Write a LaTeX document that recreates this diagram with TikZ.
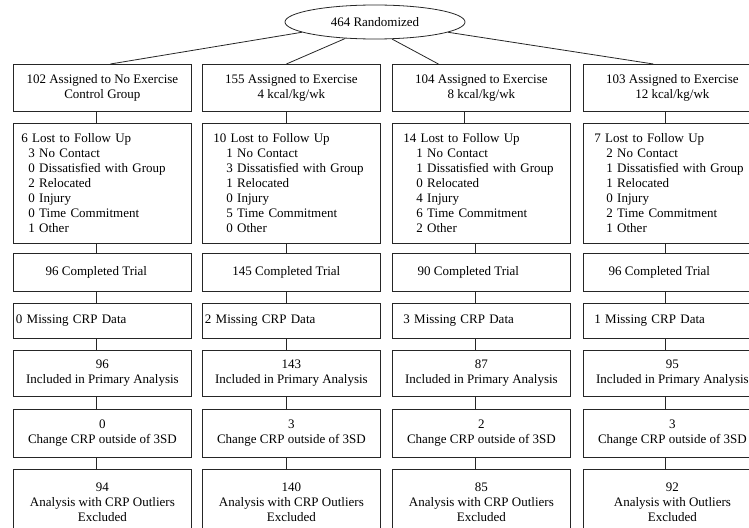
\documentclass[tikz,border=0pt]{standalone}
\usepackage{fontspec}
\setmainfont{Liberation Serif}
\usetikzlibrary{shapes.geometric}
\begin{document}
\begin{tikzpicture}[x=1pt,y=-1pt,
  every node/.style={font=\fontsize{13}{15}\selectfont},
  line/.style={draw=black!85,line width=0.8pt},
  cbox/.style={line,rectangle,anchor=north west,minimum width=178pt,align=center,inner sep=0pt},
  lbox/.style={line,rectangle,anchor=north west,minimum width=178pt,align=left,inner ysep=0pt}]
\clip (0,0) rectangle (749,527);
\node[line,ellipse,minimum width=180pt,minimum height=34pt,inner sep=0pt] (rand) at (375,22) {464 Randomized};
% row 1
\node[cbox,minimum height=47pt] (a1) at (13,64) {102 Assigned to No Exercise\\Control Group};
\node[cbox,minimum height=47pt] (a2) at (202,64) {155 Assigned to Exercise\\4 kcal/kg/wk};
\node[cbox,minimum height=47pt] (a3) at (392,64) {104 Assigned to Exercise\\8 kcal/kg/wk};
\node[cbox,minimum height=47pt] (a4) at (583,64) {103 Assigned to Exercise\\12 kcal/kg/wk};
% row 2
\node[lbox,minimum height=120pt,inner xsep=8pt,text width=162pt] (b1) at (13,123) {6 Lost to Follow Up\\\hspace*{7pt}3 No Contact\\\hspace*{7pt}0 Dissatisfied with Group\\\hspace*{7pt}2 Relocated\\\hspace*{7pt}0 Injury\\\hspace*{7pt}0 Time Commitment\\\hspace*{7pt}1 Other};
\node[lbox,minimum height=120pt,inner xsep=11pt,text width=156pt] (b2) at (202,123) {10 Lost to Follow Up\\\hspace*{13pt}1 No Contact\\\hspace*{13pt}3 Dissatisfied with Group\\\hspace*{13pt}1 Relocated\\\hspace*{13pt}0 Injury\\\hspace*{13pt}5 Time Commitment\\\hspace*{13pt}0 Other};
\node[lbox,minimum height=120pt,inner xsep=11pt,text width=156pt] (b3) at (392,123) {14 Lost to Follow Up\\\hspace*{13pt}1 No Contact\\\hspace*{13pt}1 Dissatisfied with Group\\\hspace*{13pt}0 Relocated\\\hspace*{13pt}4 Injury\\\hspace*{13pt}6 Time Commitment\\\hspace*{13pt}2 Other};
\node[lbox,minimum height=120pt,inner xsep=11pt,text width=156pt] (b4) at (583,123) {7 Lost to Follow Up\\\hspace*{12pt}2 No Contact\\\hspace*{12pt}1 Dissatisfied with Group\\\hspace*{12pt}1 Relocated\\\hspace*{12pt}0 Injury\\\hspace*{12pt}2 Time Commitment\\\hspace*{12pt}1 Other};
% row 3
\node[cbox,minimum height=38pt] (c1) at (13,253) {\hspace*{-12pt}96 Completed Trial};
\node[cbox,minimum height=38pt] (c2) at (202,253) {\hspace*{-10pt}145 Completed Trial};
\node[cbox,minimum height=38pt] (c3) at (392,253) {\hspace*{-26pt}90 Completed Trial};
\node[cbox,minimum height=38pt] (c4) at (583,253) {\hspace*{-26pt}96 Completed Trial};
% row 4
\node[lbox,minimum height=35pt,inner xsep=2.5pt,text width=173pt] (d1) at (13,303) {0 Missing CRP Data};
\node[lbox,minimum height=35pt,inner xsep=2.5pt,text width=173pt] (d2) at (202,303) {2 Missing CRP Data};
\node[lbox,minimum height=35pt,inner xsep=11pt,text width=156pt] (d3) at (392,303) {3 Missing CRP Data};
\node[lbox,minimum height=35pt,inner xsep=11pt,text width=156pt] (d4) at (583,303) {1 Missing CRP Data};
% row 5
\node[cbox,minimum height=46pt] (e1) at (13,350) {96\\Included in Primary Analysis};
\node[cbox,minimum height=46pt] (e2) at (202,350) {143\\Included in Primary Analysis};
\node[cbox,minimum height=46pt] (e3) at (392,350) {87\\Included in Primary Analysis};
\node[cbox,minimum height=46pt] (e4) at (583,350) {95\\Included in Primary Analysis};
% row 6
\node[cbox,minimum height=48pt] (f1) at (13,409) {0\\Change CRP outside of 3SD};
\node[cbox,minimum height=48pt] (f2) at (202,409) {3\\Change CRP outside of 3SD};
\node[cbox,minimum height=48pt] (f3) at (392,409) {2\\Change CRP outside of 3SD};
\node[cbox,minimum height=48pt] (f4) at (583,409) {3\\Change CRP outside of 3SD};
% row 7
\node[cbox,minimum height=66pt] (g1) at (13,469) {94\\Analysis with CRP Outliers\\Excluded};
\node[cbox,minimum height=66pt] (g2) at (202,469) {140\\Analysis with CRP Outliers\\Excluded};
\node[cbox,minimum height=66pt] (g3) at (392,469) {85\\Analysis with CRP Outliers\\Excluded};
\node[cbox,minimum height=66pt] (g4) at (583,469) {92\\Analysis with Outliers\\Excluded};
% connectors from the ellipse
\draw[line] (rand.188) -- ([xshift=8pt]a1.north);
\draw[line] (rand.209.5) -- ([xshift=-5pt]a2.north);
\draw[line] (rand.-45) -- ([xshift=-43pt]a3.north);
\draw[line] (rand.-8) -- ([xshift=-19pt]a4.north);
% vertical connector positions
\coordinate (k1) at (96,0);
\coordinate (k2) at (286,0);
\coordinate (k3) at (475,0);
\coordinate (k3a) at (464,0);
\coordinate (k4) at (665,0);
\draw[line] (k1 |- a1.south) -- (k1 |- b1.north);
\draw[line] (k2 |- a2.south) -- (k2 |- b2.north);
\draw[line] (k3a |- a3.south) -- (k3a |- b3.north);
\draw[line] (k4 |- a4.south) -- (k4 |- b4.north);
\foreach \u/\v in {b/c,c/d,d/e,e/f,f/g}{
  \draw[line] (k1 |- \u1.south) -- (k1 |- \v1.north);
  \draw[line] (k2 |- \u2.south) -- (k2 |- \v2.north);
  \draw[line] (k3 |- \u3.south) -- (k3 |- \v3.north);
  \draw[line] (k4 |- \u4.south) -- (k4 |- \v4.north);
}
\end{tikzpicture}
\end{document}
